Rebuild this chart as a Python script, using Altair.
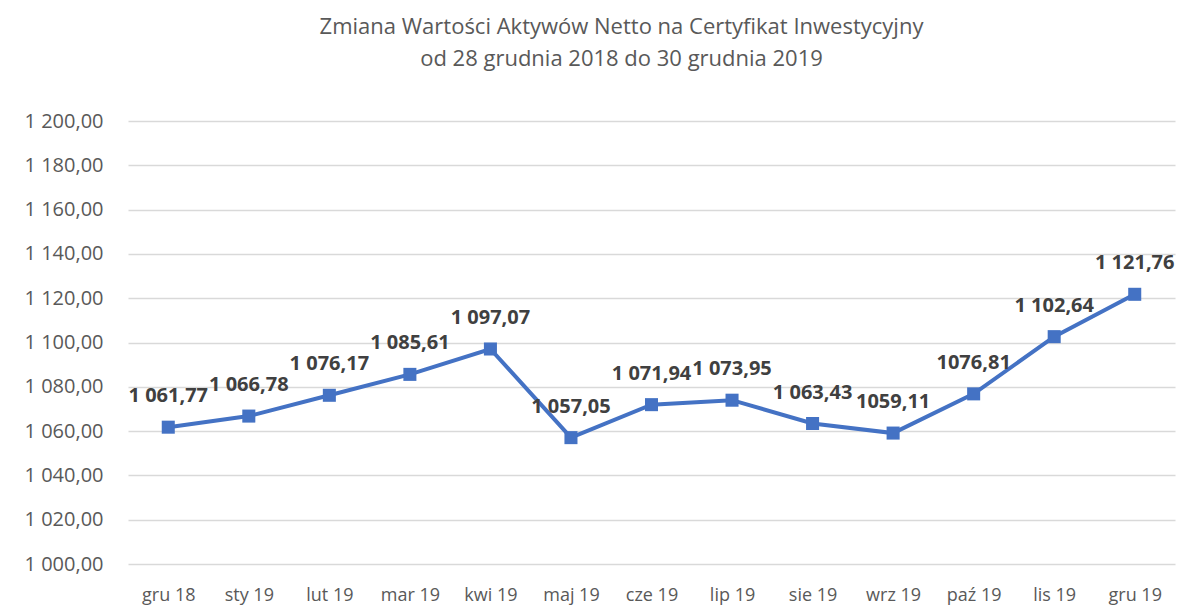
import altair as alt
import pandas as pd

months = ["gru 18", "sty 19", "lut 19", "mar 19", "kwi 19", "maj 19", "cze 19",
          "lip 19", "sie 19", "wrz 19", "paź 19", "lis 19", "gru 19"]
values = [1061.77, 1066.78, 1076.17, 1085.61, 1097.07, 1057.05, 1071.94,
          1073.95, 1063.43, 1059.11, 1076.81, 1102.64, 1121.76]
labels = ["1 061,77", "1 066,78", "1 076,17", "1 085,61", "1 097,07", "1 057,05",
          "1 071,94", "1 073,95", "1 063,43", "1059,11", "1076,81", "1 102,64", "1 121,76"]

df = pd.DataFrame({"month": months, "value": values, "label": labels})

font = "Open Sans"

x = alt.X("month:N", sort=months, title=None,
          scale=alt.Scale(paddingInner=0, paddingOuter=0.5),
          axis=alt.Axis(labelAngle=0, labelFont=font, labelFontSize=18,
                        labelColor="#595959", ticks=False, domain=False,
                        labelPadding=22, grid=False))
y = alt.Y("value:Q", title=None,
          scale=alt.Scale(domain=[1000, 1200], nice=False, zero=False),
          axis=alt.Axis(values=list(range(1000, 1201, 20)),
                        labelExpr="replace(replace(format(datum.value, ',.2f'), ',', ' '), '.', ',')",
                        labelFont=font, labelFontSize=20, labelColor="#595959",
                        ticks=False, domain=False, labelPadding=25,
                        gridColor="#d9d9d9", gridWidth=1.3))

base = alt.Chart(df).encode(x=x, y=y)

line = base.mark_line(color="#4472C4", strokeWidth=4)
pts = base.mark_square(color="#4472C4", size=170, opacity=1)
txt = base.mark_text(dy=-31, font=font, fontSize=20, fontWeight="bold",
                     color="#404040").encode(text="label:N")

chart = (line + pts + txt).properties(
    width=1047, height=443,
    background="white",
    autosize=alt.AutoSizeParams(type="none"),
    padding={"left": 128, "top": 121, "right": 7, "bottom": 47},
    title=alt.TitleParams(
        ["Zmiana Wartości Aktywów Netto na Certyfikat Inwestycyjny",
         "od 28 grudnia 2018 do 30 grudnia 2019"],
        font=font, fontSize=22, fontWeight="normal", color="#595959",
        lineHeight=32, offset=40, dx=-30, anchor="middle"),
).configure_view(stroke=None)

chart.save("out.html", embed_options={"renderer": "svg", "actions": False})
